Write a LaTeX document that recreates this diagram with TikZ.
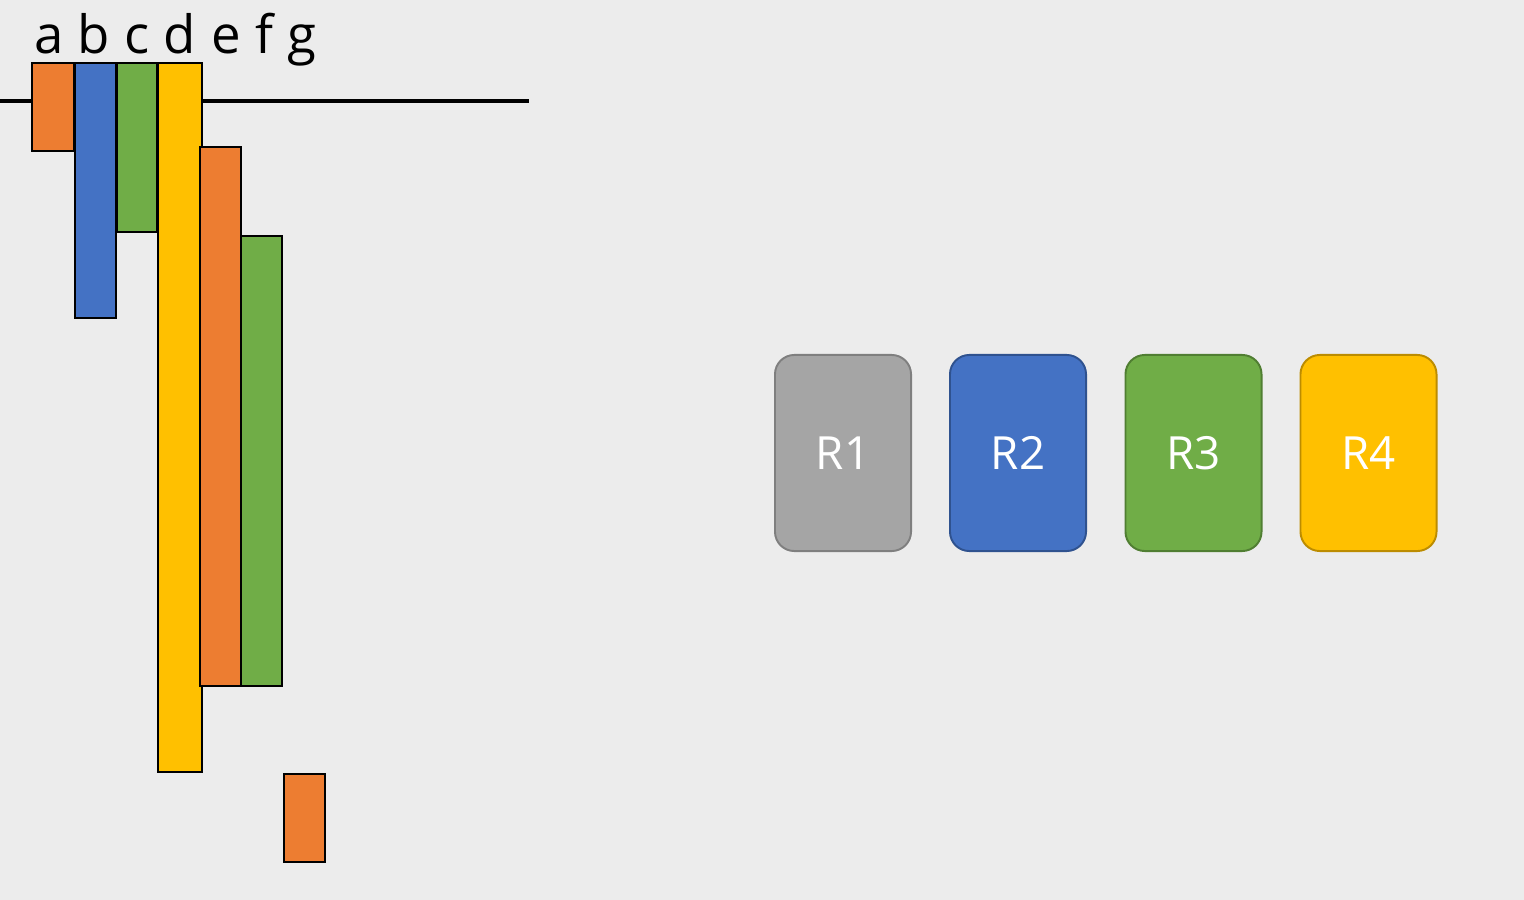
\documentclass[tikz,border=0pt]{standalone}
\usepackage{fontspec}
\setmainfont{Open Sans}
\definecolor{bgGray}{HTML}{ECECEC}
\definecolor{barOrange}{HTML}{ED7D31}
\definecolor{barBlue}{HTML}{4472C4}
\definecolor{barGreen}{HTML}{70AD47}
\definecolor{barYellow}{HTML}{FFC000}
\definecolor{regGray}{HTML}{A5A5A5}
\definecolor{edgeGray}{HTML}{7F7F7F}
\definecolor{edgeBlue}{HTML}{2F528F}
\definecolor{edgeGreen}{HTML}{507E32}
\definecolor{edgeYellow}{HTML}{BC8C00}
\tikzset{
  bar/.style={draw=black, line width=0.6pt},
  letter/.style={anchor=base, inner sep=0pt, font=\fontsize{15}{18}\selectfont},
  reg/.style={rounded corners=5.5pt, line width=0.55pt, minimum width=136\unit, minimum height=196\unit,
    text=white, font=\fontsize{13}{16}\selectfont, inner sep=0pt}
}
\def\unit{*0.2845pt}
\begin{document}
\begin{tikzpicture}[x=0.01cm, y=-0.01cm]
 	\fill [bgGray] (0,0) rectangle (1524,900);
 	\useasboundingbox (0,0) rectangle (1524,900);
 	% axis line
 	\draw [black, line width=1.1pt] (0,101) -- (529,101);
 	% bars
 	\filldraw [bar, fill=barOrange] (32,63) rectangle (74,151);
 	\filldraw [bar, fill=barBlue] (75,63) rectangle (116,318);
 	\filldraw [bar, fill=barGreen] (117,63) rectangle (157,232);
 	\filldraw [bar, fill=barYellow] (158,63) rectangle (202,772);
 	\filldraw [bar, fill=barOrange] (200,147) rectangle (241,686);
 	\filldraw [bar, fill=barGreen] (241,236) rectangle (282,686);
 	\filldraw [bar, fill=barOrange] (284,774) rectangle (325,862);
 	% letters
 	\node [letter] (la) at (49,53) {a};
 	\node [letter] (lb) at (94,53) {b};
 	\node [letter] (lc) at (137,53) {c};
 	\node [letter] (ld) at (180,53) {d};
 	\node [letter] (le) at (226,53) {e};
 	\node [letter] (lf) at (264,53) {f};
 	\node [letter] (lg) at (302,53) {g};
 	% registers
 	\node [reg, draw=edgeGray, fill=regGray] (r1) at (843,453) {R1};
 	\node [reg, draw=edgeBlue, fill=barBlue] (r2) at (1018,453) {R2};
 	\node [reg, draw=edgeGreen, fill=barGreen] (r3) at (1193.5,453) {R3};
 	\node [reg, draw=edgeYellow, fill=barYellow] (r4) at (1368.5,453) {R4};
\end{tikzpicture}
\end{document}
